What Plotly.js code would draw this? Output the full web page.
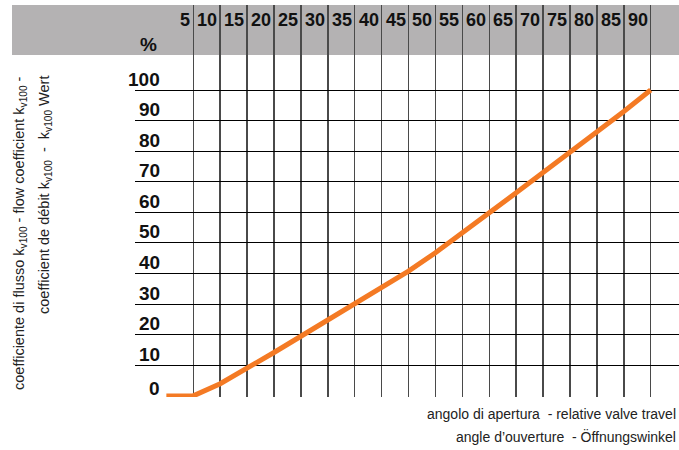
<!DOCTYPE html>
<html>
<head>
<meta charset="utf-8">
<script src="https://cdn.plot.ly/plotly-3.0.1.min.js"></script>
<style>
  html, body { margin: 0; padding: 0; background: #fff; }
  #chart { width: 679px; height: 450px; }
</style>
</head>
<body>
<div id="chart"></div>
<script>
// ---- data ----
const openingAngle = [0, 5, 10, 15, 20, 25, 30, 35, 40, 45, 50, 55, 60, 65, 70, 75, 80, 85, 90];
const kvPercent    = [0, 0, 4, 9, 14.2, 19.5, 24.8, 30, 35.3, 40.8, 46.8, 53.2, 59.8, 66.4, 73, 79.6, 86.2, 93, 100];

const xTickVals   = [5, 10, 15, 20, 25, 30, 35, 40, 45, 50, 55, 60, 65, 70, 75, 80, 85, 90];
const xTickLabels = ["5","10","15","20","25","30","35","40","45","50","55","60","65","70","75","80","85","90"];
const yTickVals   = [0, 10, 20, 30, 40, 50, 60, 70, 80, 90, 100];
const yTickLabels = ["0","10","20","30","40","50","60","70","80","90","100"];

const unitLabel = "%";
const yTitleLine1 = "coefficiente di flusso k<sub>v100</sub> - flow coefficient k<sub>v100</sub> -";
const yTitleLine2 = "coefficient de débit k<sub>v100</sub>  -  k<sub>v100</sub> Wert";
const xTitleLine1 = "angolo di apertura  - relative valve travel";
const xTitleLine2 = "angle d’ouverture  - Öffnungswinkel";

// ---- layout helpers (pixel geometry) ----
const W = 679, H = 450;
const M = {l: 135, r: 0, t: 5, b: 53};
const plotW = W - M.l - M.r, plotH = H - M.t - M.b;
const px2paperX = px => (px - M.l) / plotW;
const px2paperY = py => (H - M.b - py) / plotH;

const FONT = "'Liberation Sans', Arial, sans-serif";

const annotations = [];
// x tick labels in grey band (right-aligned against their grid line)
xTickVals.forEach((v, i) => {
  annotations.push({
    x: v, xref: 'x', xanchor: 'right', xshift: -1,
    y: px2paperY(20), yref: 'paper', yanchor: 'middle',
    text: '<b>' + xTickLabels[i] + '</b>', showarrow: false,
    font: {family: FONT, size: 18, color: '#111'}
  });
});
// y tick labels above their grid line
yTickVals.forEach((v, i) => {
  annotations.push({
    x: px2paperX(162), xref: 'paper', xanchor: 'right',
    y: v, yref: 'y', yanchor: 'middle', yshift: v === 0 ? 7 : 11,
    text: '<b>' + yTickLabels[i] + '</b>', showarrow: false,
    font: {family: FONT, size: 19, color: '#111'}
  });
});
// unit
annotations.push({
  x: px2paperX(159), xref: 'paper', xanchor: 'right',
  y: px2paperY(44), yref: 'paper', yanchor: 'middle',
  text: '<b>' + unitLabel + '</b>', showarrow: false,
  font: {family: FONT, size: 19, color: '#111'}
});
// y title (two rotated lines)
[[yTitleLine1, 20], [yTitleLine2, 45]].forEach(([t, cx]) => {
  annotations.push({
    x: px2paperX(cx), xref: 'paper', xanchor: 'center',
    y: px2paperY(74), yref: 'paper', yanchor: 'top',
    text: t, textangle: -90, showarrow: false,
    font: {family: FONT, size: 14.5, color: '#222'}
  });
});
// x title (bottom right)
[[xTitleLine1, 414], [xTitleLine2, 436]].forEach(([t, cy]) => {
  annotations.push({
    x: px2paperX(678), xref: 'paper', xanchor: 'right',
    y: px2paperY(cy), yref: 'paper', yanchor: 'middle',
    text: t, showarrow: false,
    font: {family: FONT, size: 14, color: '#222'}
  });
});

const trace = {
  x: openingAngle, y: kvPercent,
  type: 'scatter', mode: 'lines',
  line: {color: '#f47a24', width: 5},
  cliponaxis: false, hoverinfo: 'skip'
};

const layout = {
  width: W, height: H,
  margin: M,
  paper_bgcolor: '#fff', plot_bgcolor: 'rgba(0,0,0,0)',
  showlegend: false,
  xaxis: {
    range: [-5.83, 95.26], tickvals: xTickVals, showticklabels: false,
    showgrid: true, gridcolor: '#4a4a4a', gridwidth: 1.5,
    zeroline: false, showline: false, ticks: '', fixedrange: true
  },
  yaxis: {
    range: [-0.36, 127.8], tickvals: yTickVals.filter(v => v > 0), showticklabels: false,
    showgrid: true, gridcolor: '#000', gridwidth: 1,
    zeroline: false, showline: false, ticks: '', fixedrange: true
  },
  shapes: [{
    type: 'rect', layer: 'below',
    xref: 'paper', yref: 'paper',
    x0: px2paperX(12), x1: 1, y0: px2paperY(55), y1: px2paperY(5),
    fillcolor: '#b4b2b3', line: {width: 0}
  }],
  annotations: annotations
};

Plotly.newPlot('chart', [trace], layout, {displayModeBar: false, staticPlot: true});
</script>
</body>
</html>
